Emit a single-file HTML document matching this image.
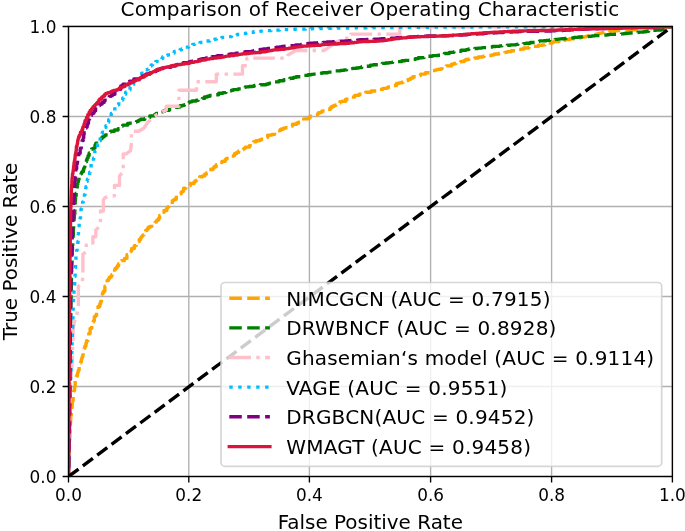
<!DOCTYPE html>
<html><head><meta charset="utf-8"><title>Comparison of Receiver Operating Characteristic</title>
<style>html,body{margin:0;padding:0;background:#fff}svg{display:block;will-change:transform}text{font-family:"DejaVu Sans","Liberation Sans",sans-serif;fill:#000}</style></head><body>
<svg width="685" height="531" viewBox="0 0 685 531">
<rect width="685" height="531" fill="#fff"/>
<defs><clipPath id="ax"><rect x="68.50" y="26.45" width="603.90" height="450.05"/></clipPath></defs>
<path d="M68.50 476.50V26.45M188.80 476.50V26.45M309.40 476.50V26.45M430.60 476.50V26.45M551.60 476.50V26.45M672.40 476.50V26.45M68.50 476.50H672.40M68.50 386.49H672.40M68.50 296.48H672.40M68.50 206.47H672.40M68.50 116.46H672.40M68.50 26.45H672.40" stroke="#b0b0b0" stroke-width="1.35" fill="none"/>
<g clip-path="url(#ax)" fill="none" stroke-width="3.38" stroke-linejoin="round">
<path d="M68.6 476.5h.01v-2.36v-3.2h.02h.01v-1.16v-2.01h.03h.03v-1.56v-1.41h.02v-1.67h.04v-2.1h.05v-2.25h.06v-2.63h.08h.08v-2.29h.11v-3.01h.07v-1.69h.15v-3.53v-1.2h.06h.13v-2.95v-2.25h.11h.14v-2.63h.08v-1.5v-1.64h.08v-3.28h.18v-3.73h.21v-1.96h.12v-2.97h.17v-3.43h.25v-3.41h.32h.13v-1.28v-1.16h.12h.17v-1.49v-3.3h.38v-1.3h.15v-2.12h.26v-3.49h.42h.29v-2.4v-2.8h.35h.23v-1.84v-2.76h.38h.45v-3.1v-1.06h.16h.47v-2.85v-3.39h.61h.59v-2.72v-1.6h.37h.7v-2.73h.31v-1.15h.54v-1.92h.84v-2.92v-1.56h.46v-1.54h.45v-1.19h.35h.27v-.95h.7v-2.41h.41v-1.37h.44v-1.48h.61v-1.97h.32v-1.01v-2.14h.67v-1.21h.38v-2.16h.7v-2.4h.77h.35v-1.11v-1.78h.57v-2.41h.75h.56v-1.8v-1h.3h.62v-2.09v-2.37h.7h.6v-2.04v-2.98h.89h.67v-2.18v-2.85h.9v-1.17h.39h.4v-1.17h.94v-2.55v-1.64h.66h.48v-1.16h1.11v-2.71v-1.57h.6h.88v-2.43v-2.41h.85h.94v-2.75h.75v-2.2h.84v-2.49v-1.62h.54h.49v-1.45v-2.84h.89v-1.83h.57h.98v-2.95v-2.22h.85h.9v-2.05h.48v-1.01v-2.57h1.31v-1.58h.88v-1.79h1.04h.89v-1.45h.72v-1.13h1.49v-2.25h1.19v-1.63v-.67h.51v-1.63h1.3v-1.16h.95v-1.45h1.23v-1.99h1.71h1.01v-1.18v-2.03h1.74h1.4v-1.55v-.63h.58h1.85v-1.98v-1.65h1.5h1.86v-2.16v-.93h.73v-.9h.67v-2.33h1.5h1.18v-1.99v-.84h.51h1.32v-2.02v-1.92h1.4h1.65v-2.16h1.43v-1.77h.69v-.84h.56v-.67h.57v-.67h.58v-.68h.86v-1.01v-1.93h1.7v-1.44h1.27v-1.42h1.33v-1.83h1.75v-.77h.75h.98v-.99v-1.43h1.42h1.96v-1.98h1.37v-1.4h.6v-.63h1.67v-1.79h.87v-.96v-1.83h1.65v-1.21h1.07v-1.94h1.7v-1.77h1.54h1.27v-1.49v-.84h.72v-.73h.61v-.82h.69v-.71h.59h.67v-.81v-1.02h.8h1.39v-1.82v-1.58h1.19v-.69h.52h.59v-.78h1.75v-2.18v-1.49h1.31v-.9h.85v-.94h.95h1.71v-1.6h.91v-.81h1.53v-1.3v-1.77h2.17v-1.6h2h1.04v-.81h1.47v-1.12v-1.25h1.69h2.07v-1.47h.95v-.67v-.5h.72h.8v-.57h1.49v-1.07v-1.23h1.68v-1.2h1.6h1.18v-.89h2.28v-1.73h1.61v-1.21h1.29v-.97h1.58v-1.16v-1.38h1.92h1.8v-1.28h1.13v-.8v-.56h.8h1.31v-.92v-1.21h1.77h1.05v-.71v-1.31h2.02h.83v-.53v-.73h1.18h2.19v-1.28v-.63h1.1v-1.06h1.93h1.73v-.95v-1.37h2.45h1.22v-.7h.86v-.5v-1.22h2.05v-1.27h2.1v-1.43h2.35v-1.47h2.35v-.48h.74v-.71h1.12v-1.15h1.79h2.37v-1.51h2.41v-1.49v-1.03h1.73v-1.35h2.43v-1.03h1.98h1.52v-.76h1.73v-.83h1.98v-.92v-.85h1.89h2.65v-1.18v-1.15h2.64h1.6v-.7h2.72v-1.2v-.52h1.15v-.48h1.05h1.07v-.49v-.83h1.79v-.39h.84v-1.23h2.65v-1.13h2.41v-.38h.83h1.14v-.53v-.67h1.45h1.05v-.49h2.39v-1.1v-.68h1.48h2.66v-1.19h1.97v-.87h2.57v-1.11h2.51v-1.08v-1.12h2.64h1.74v-.75h1.9v-.83v-1.04h2.41h1.39v-.6v-.77h1.8h2.02v-.86v-.37h.85v-.86h2.01v-.73h1.67v-1.07h2.42h1.43v-.64v-1.17h2.55h1.91v-.91v-.56h1.14v-1.16h2.26v-1.04h1.88v-.49h.84h1.49v-.87v-1.16h1.96v-1.39h2.4v-.42h.76h2.6v-1.36v-.72h1.53h2.77v-1.18v-.82h2.08h2.58v-.96v-.72h2.1h2.25v-.71v-.46h1.54h2.24v-.6h2.65v-.67v-.7h2.92h2.7v-.63v-.62h2.54h2.93v-.71h1.7v-.4v-.59h2.5h1.98v-.48v-.45h1.81h1.85v-.5h1.79v-.52v-.5h1.58h2.19v-.76h1.74v-.66h2.83v-1.13v-.91h2.2v-.51h1.22h1.69v-.7h1.51v-.64h2.38v-1.08h2.52v-1.16h2.6v-1.16h2.19v-.88v-.51h1.43h1.42v-.47h2.76v-.85h2.08v-.6v-.76h2.7h2.19v-.62v-.75h2.52h2.04v-.62h2.59v-.78v-.66h2.13v-.6h1.91v-.51h1.63v-.34h1.04h1.69v-.55h1.04v-.36v-1.03h2.96v-.44h1.24v-.92h2.57h2.72v-.96v-.79h2.34v-.69h2.11v-.41h1.23h1.88v-.62v-.53h1.63v-.44h1.37h2.19v-.68v-.47h1.59v-.8h2.99v-.71h3.06h1.58v-.33h1.24v-.25v-.28h1.44h2.19v-.41v-.5h2.74h1.49v-.28v-.31h1.57v-.59h3.01h1.98v-.39h2.45v-.48h1.54v-.3h1.22v-.24v-.44h2.2h2.12v-.42v-.27h1.33h2.45v-.5h2.27v-.47h2.52v-.51v-.27h1.31h2.76v-.57v-.3h1.5h2.21v-.45h2.85v-.56h1.03v-.21h1.75v-.35h3.06v-.6v-.58h3h2.28v-.44v-.55h3.09v-.59h3.3h2.98v-.56v-.62h2.98h1.18v-.28h2.43v-.6v-.66h2.53v-.58h2.33h2.81v-.65v-.23h1.04v-.6h2.77h2.69v-.57h1.59v-.32v-.32h1.59h2.5v-.47v-.33h1.83h2.97v-.49v-.31h2.13h3.01v-.4v-.45h3.55h1.79v-.24v-.19h1.39v-.5h3.25v-.41h2.31v-.74h3.21h2.3v-.69h3.06v-.95h2.14v-.6h2.18v-.49h1.31v-.26h1.84v-.34h1.06v-.19v-.23h1.39h2.86v-.45v-.15h1.1v-.25h1.97v-.32h3.32v-.21h2.94v-.16h2.98v-.09h1.63h2.32v-.11v-.13h2.7h3.79v-.21h1.64v-.11v-.12h1.76h1.79v-.13h3.09v-.23v-.17h2.3h1.24v-.1v-.19h2.43v-.13h1.65v-.27h3.18h1.86v-.16v-.1h1.15h2.63v-.23v-.31h3.28h2.07v-.19v-.3h3.02h2.39v-.24h2.46v-.26v-.35h3.33" stroke="#ffa500" stroke-dasharray="12.50 5.41"/>
<path d="M68.6 476.5v-2.37h.04h.02v-1.23v-2.69h.05h.04v-2.38h.04v-2.33h.04v-2.08v-1.72h.03h.05v-2.89h.03v-2v-1.9h.03h.05v-2.9h.04v-2.64v-1.53h.03h.04v-2.6h.03v-1.67h.05v-3.36v-3.56h.05h.04v-2.54h.05v-3.54h.02v-1.38h.04v-2.58h.02v-1.34h.03v-2.36v-1.43h.02h.02v-1.51h.04v-2.84v-1.79h.02h.02v-1.46h.02v-1.78v-2.14h.02h.03v-2.48v-1.73h.02v-2.97h.03h.03v-2.53v-2.58h.03v-2.26h.02v-3.4h.04h.02v-2.8h.02v-1.62h.03v-3.15v-3.89h.04v-2.57h.02v-3.68h.04h.02v-2.13v-2.76h.02h.03v-2.37h.02v-2.4h.03v-3.36v-2.67h.03h.04v-3.86h.03v-2.69v-1.39h.02v-2.19h.02v-3.56h.05h.03v-2.31h.01v-1.23v-1.85h.03h.01v-1.35h.06v-3.96h.05v-3.88h.06v-3.41v-2.85h.04h.05v-3.3h.03v-1.63v-1.98h.03h.05v-2.62h.04v-2.15v-1.28h.02h.07v-3.91h.04v-2.39h.05v-2.56h.04v-2.06h.04v-1.87h.05v-2.23h.07v-3.48v-3.2h.07h.05v-2.21v-1.18h.03h.08v-3.37v-1.89h.05v-2.77h.07h.03v-1.21v-2.99h.08h.06v-2.21v-2.52h.07v-2.29h.06v-2.11h.07h.08v-2.67h.12v-3.83h.05v-1.44v-2h.07h.04v-1.25v-3.17h.11h.12v-2.93v-1.7h.08h.11v-2.25v-2.86h.16h.16v-2.9v-1.56h.09h.22v-3.48v-3.18h.21v-1.46h.1v-3.42h.23h.21v-3.1v-3.23h.23v-2.55h.17v-1.69h.12h.22v-3.57h.16v-2.7v-2.03h.13h.11v-1.81v-3.53h.26v-2.19h.18v-2.48h.24h.29v-2.61h.53v-3.01h.56v-2.39v-1.41h.27v-2.41h.45v-2.13h.44v-2.15h.58v-2.27h.91v-1.28h.59h.55v-1.15v-1.02h.47v-1.37h.59v-.84h.35h.87v-2.1h.59v-1.43h.5v-1.21h.42v-1.02v-1.4h.57v-1.27h.52v-1.41h.58v-1.78h.74v-1.91h.83v-2.51h1.07v-2.73h1.27h.45v-.86v-1.16h.68v-1.81h1.19h.69v-.95h1.59v-2.06v-.99h.81v-1.76h1.52h1.47v-1.58v-1.74h1.71v-.62h.64v-.89h.94v-1.49h1.69v-.64h.78v-.56h.7v-.94h1.26h1.68v-1.17v-.54h.78h.81v-.54v-.5h.8v-.81h1.49h2.27v-.82v-.47h1.26h2.45v-1.23h1.52v-.88h1.85v-1.09v-.71h1.3v-.91h2.01h2.87v-1.03v-.59h1.86v-.41h1.35h1.84v-.55h1.87v-.57h1.97v-.65h1.99v-.69v-.33h.96v-.43h1.21v-.64h1.81h2.35v-.85h2.49v-.9h2.48v-.92v-.72h1.89h2.83v-1.07h1.54v-.58v-.69h1.85h2.43v-.89v-.93h2.69v-.59h1.77v-.88h2.72h1.85v-.58v-.77h2.46v-.28h.91v-.3h.94v-.93h2.93h1.1v-.36h2.3v-.77v-.51h1.46h1.29v-.46h1.66v-.62h2.78v-1.04v-.77h2.03v-1.03h2.76v-.85h2.33h1.93v-.67h1.97v-.65v-.44h1.36h.9v-.28h1.82v-.55h2.15v-.63v-.81h2.86v-.67h2.44v-.76h2.82v-.79h3.03h3.11v-.75v-.67h2.83h1.25v-.3v-.42h1.74h1.42v-.34v-.75h2.91v-.77h2.67v-.5h1.67v-.64h2.15h2.73v-.74h2.9v-.65h1.47v-.29v-.5h2.76v-.49h2.98v-.18h1.12v-.2h1.27h2.09v-.32h1.56v-.25v-.48h3.21v-.39h2.83v-.39h2.83h2.94v-.43h1.81v-.3v-.28h1.55v-.53h2.43h1.87v-.48v-.83h3.02h2.36v-.65v-.46h1.81h2.93v-.69v-.41h1.85v-.31h1.37v-.61h2.8v-.44h2.08h1.58v-.33v-.53h2.62v-.66h3.31h1.57v-.3v-.55h2.89v-.51h2.84h1.29v-.22v-.5h3.07v-.33h2.16v-.19h1.34h2.37v-.33h1.78v-.24h1.47v-.2h1.23v-.17v-.21h1.53v-.3h2.1h2.62v-.38h1.24v-.19h2.8v-.41v-.19h1.27v-.22h1.45v-.42h2.8h3.22v-.48h3.47v-.51h2.65v-.39v-.33h2.21v-.18h1.23v-.37h2.41v-.22h1.46h2.27v-.37h2.49v-.42h3.03v-.53v-.31h1.78v-.59h3.41h3.46v-.56v-.48h3.05v-.41h2.74h2.84v-.43v-.47h3.21v-.48h3.4v-.44h3.18v-.35h2.65v-.16h1.22v-.35h2.6v-.26h1.92v-.2h1.44h3.26v-.47v-.44h3.09v-.34h2.33h2.17v-.33h2.22v-.35h1.64v-.27h1.96v-.36v-.4h2.02h1v-.21v-.66h3.07h1.03v-.22h1.86v-.38v-.24h1.21h1.47v-.26v-.49h3.37h2.01v-.23v-.31h2.93h1.38v-.16h1.66v-.22h3.11v-.59h2.97v-.78v-.35h1.64h3.26v-.68v-.52h2.56h2.19v-.42v-.36h1.89h1.81v-.33h3.32v-.57v-.44h2.71h2.34v-.36v-.17h1.12v-.23h1.65v-.46h3.41v-.3h2.46v-.23h1.96h1.07v-.13v-.19h1.71h1.71v-.19v-.16h1.5v-.2h1.95h1.59v-.16h1.22v-.13v-.13h1.32v-.23h2.35h1.25v-.13v-.35h3.49v-.16h1.6h2.27v-.23v-.21h2.14v-.18h1.83h1.92v-.17h1.63v-.15v-.16h1.81h1.38v-.12v-.26h2.89h2.76v-.25v-.18h1.88v-.33h3.36h2.05v-.22v-.3h2.62v-.3h2.37h1.83v-.27v-.56h3.27h3.04v-.55v-.52h3.06v-.5h3.39h1.03v-.15h2.27v-.32h3.41v-.44h1.39v-.16v-.19h1.68h2.36v-.25h2.83v-.28h1.94v-.18h1.87v-.18h3.12v-.27h1.16v-.1h3.15v-.27v-.18h2.22h2.74v-.23v-.24h2.94v-.11h1.34v-.27h3.49v-.26h3.26v-.18h2.07h1.58v-.14v-.12h1.24h1.87v-.17v-.29h2.93v-.3h3.19h1.92v-.18v-.16h1.65v-.17h1.93h3.63v-.3h1.34v-.1v-.11h1.53v-.2h2.95h1.48v-.09h1.82v-.12v-.2h3.26h1.91v-.12h2.69v-.19v-.19h2.62v-.14h1.79v-.14h1.73v-.17h1.84h3.36v-.32h1.11v-.11v-.13h1.3v-.2h1.94v-.18h1.63h2.5v-.28h2.43v-.28v-.27h2.32v-.22h1.81v-.27h2.35v-.36h3.07v-.39h3.1h2.35v-.34h2.96v-.52h1.04v-.22h1.28v-.33h2.49v-.83v-.63h1.63v-.61h1.47v-.07h.16" stroke="#008000" stroke-dasharray="12.50 5.41" stroke-dashoffset="7.9"/>
<path d="M68.6 476.5L70.2 387L72.3 360.9L73.3 327.9L74.3 322.2L77.4 312L78.3 306L78.3 286.2L82 284L82.9 276.3L82.9 254.1L86 252L86.4 243.1L92.9 243.1L92.9 236.7L95.8 236.7L95.8 230L99 227.1L100.5 220.4L100.5 211L103.4 211L103.4 200L105.1 197.6L110.5 195.8L114.5 195.8L114.5 185.4L119.5 185.4L119.5 176.1L123.2 171.5L123.2 153.9L126.2 153.9L130.5 150.7L131.4 143L131.4 131.2L138.7 131.2L143.8 128.2L147.9 122.2L156.1 115L166.3 110L166.3 106.3L178.9 106.3L178.9 90.2L196.5 90.2L196.5 81.8L216.3 81.8L216.3 74.1L242.5 74.1L242.5 65.8L246.9 65.8L246.9 58.1L287 58.1L288 55L296 50.5L320 50.5L324 50.5L329 47.2L338.5 40.8L345 38.5L350.7 37.5L350.7 34.1L399.8 34.1L399.8 27L672.4 26.45" stroke="#ffc0cb" stroke-dasharray="21.63 5.41 3.38 5.41" stroke-dashoffset="8.0"/>
<path d="M68.6 476.5h.05v-2.7h.05v-3.14v-1.96h.04h.05v-2.59h.07v-3.65h.07v-3.66v-1.51h.02v-1.73h.04v-1.29h.02v-2.38h.05v-1.23h.02h.05v-2.43h.06v-2.97v-1.93h.04v-3.04h.06h.06v-2.8v-1.22h.02h.06v-2.71v-1.87h.03v-2.31h.05h.04v-1.94h.07v-3.09h.04v-2.38h.03v-1.59v-2.68h.06h.06v-3.33v-2.01h.04h.04v-1.77v-2.23h.05h.08v-3.77h.08v-3.88v-3.02h.07h.09v-3.67h.08v-3.5h.06v-2.19h.04v-1.4v-2.95h.08h.08v-2.69h.07v-2.13h.06v-1.75v-2.25h.09v-2.41h.1h.08v-1.86v-1.91h.09h.11v-2.37v-3.47h.17v-2.72h.13h.08v-1.89v-1.88h.09v-2.37h.1v-1.69h.06h.06v-1.69v-2.55h.09h.04v-1.38h.08v-2.48v-2.14h.06v-3.1h.09h.09v-3.22v-3.06h.09h.08v-3.05v-2.18h.07h.09v-2.99v-2.08h.06h.08v-2.73h.06v-2.04h.07v-2.38v-1.3h.03v-1.81h.06h.13v-3.82v-1.76h.07h.12v-3.03v-2.89h.14v-3.07h.17v-2.39h.14h.17v-2.7v-1.28h.08v-1.3h.08v-1.63h.11v-1.51h.1v-1.37h.09h.09v-1.44h.16v-2.59v-1.62h.1v-3.69h.2h.15v-2.96h.13v-2.59h.16v-3.03h.1v-1.83v-3.61h.21h.21v-3.36v-3.02h.23h.19v-2.35h.34v-3.24h.46v-2.84v-2.65h.41h.33v-3.45h.2v-2.79h.13v-2.08v-2.58h.17h.08v-1.65v-1.63h.09h.21v-3.04h.36v-3.05v-3.4h.55h.48v-3.13h.33v-2.39v-1.25h.17v-2.24h.34v-3.24h.58v-2.82h.6v-2.1h.46v-2.05h.42h.29v-1.51h.26v-1.41h.22v-1.17h.6v-3.11h.54v-2.47v-1.27h.3h.46v-1.9v-1.07h.24v-1.46h.31h.54v-2.72v-2.52h.52v-2.06h.47v-1.57h.39v-2.41h.63h.82v-3.07h.53v-1.9h.3v-1.07h.29v-1.04h.32v-1.09v-3.05h.86v-2.12h.59h.79v-2.78h.37v-1.29h.43v-1.48v-2.43h.73v-2.86h.86h.52v-1.63v-1.02h.33h.92v-2.73v-1.47h.52h.89v-2.41v-1.17h.44h.9v-2.26v-2.51h1.07v-2.24h1.01v-1.51h.68h1.02v-2.24h.49v-1.08v-1.43h.63h.73v-1.64h1.14v-2.55v-1.1h.5h1.18v-2.51h1.16v-2.3h1.39v-2.55v-1.4h.82h.67v-1.09v-1.15h.71h1.39v-2.15v-2.35h1.58v-1.88h1.29h1.06v-1.48v-1.14h.85h1.54v-2.02h1.6v-2.07h.62v-.81h.78v-1.01v-2.03h1.51v-2.07h1.54v-1.17h.89v-1.11h.86h1.09v-1.31v-1.47h1.25v-.77h.67v-1.9h1.66v-1.46h1.24h1.54v-1.85v-.99h.84h1.82v-2.11v-1.74h1.57v-1.12h1.04v-1.99h1.89h1.57v-1.6v-1.77h1.81h.67v-.63h.7v-.63h1.75v-1.54v-.93h1.11v-1.18h1.47v-.71h.91v-1.69h2.27v-1.08h1.53h2.12v-1.42h.85v-.54h1.57v-.97h.84v-.5v-1.34h2.36h1.6v-.85v-.46h.91v-.45h.93h1.86v-.85v-.42h.96h1.19v-.52h1.68v-.73v-.8h1.79v-.89h1.95h2.03v-.92h1.55v-.69h2.07v-.87v-.46h1.16v-.55h1.4h2.51v-.95v-.42h1.18h1.36v-.45h1.43v-.44v-.52h2.02v-.22h.95h1.03v-.23v-.46h2.03h1.31v-.32v-.69h2.43v-.82h2.62v-.65h2.18h2.5v-.66v-.45h1.83h1.05v-.25h2v-.43h1.87v-.36h2.46v-.42v-.22h1.33v-.27h1.55v-.57h2.93v-.33h1.6v-.39h1.95h3.22v-.63v-.32h1.64h1.33v-.25v-.51h2.68v-.43h2.36h2.48v-.44v-.19h1.09v-.36h2.01h1v-.18h1.61v-.27h2.75v-.44v-.17h1.17h1.78v-.24v-.42h3.57v-.38h3.57v-.23h2.32h2.99v-.28v-.23h2.75h2.33v-.17h3.4v-.22v-.1h1.57h3.37v-.17h1.23v-.06h3.5v-.15v-.13h2.97h2.33v-.12v-.14h2.95h2.39v-.09h3.32v-.08v-.03h1.47h2.57v-.05h3.55v-.12v-.16h3.66h1.72v-.07v-.07h1.82v-.11h3.65h2.1v-.06v-.03h1.3v-.08h3.14v-.05h2.3h3.2v-.08h2.48v-.05v-.05h2.55h2.33v-.04v-.03h1.96v-.06h3.69v-.05h3.03v-.05h3.38h3.68v-.05v-.03h1.86v-.05h3.75h3.59v-.05v-.03h2.58v-.04h2.76v-.01h1.48v-.04h3.31h1.65v-.02v-.03h2.67h1.51v-.02v-.01h1.37h2.88v-.03v-.03h2.55v-.03h3.07v-.03h3.4h3.95v-.03v-.01h1.39v-.03h2.96h2.79v-.02h3.01v-.02h2.7v-.02h2.75v-.02v-.03h3.63h2.44v-.02v-.02h2.68v-.02h3.13h1.41v-.01h2.39v-.01v-.01h1.45v-.02h1.56h1.16h1.76v-.01h1.78v-.02v-.01h2.63h2.78v-.02h3.51v-.02v-.02h2.54v-.02h3.7h2.29v-.01h3.28v-.02h2.74v-.01v-.02h2.94h1.93v-.01v-.02h3.84h3.35v-.01v-.01h1.58v-.01h2.7h4v-.01h1.31v-.01h2.03h3.28v-.01v-.01h1.28h3.29v-.01h2.81h3.25v-.01h2.74h3.85v-.01v-.01h2.16h2.8h1.32h2.75v-.01h2.36h3.98v-.01h3.87h1.56h1.29h1.51v-.01h1.72h3.24h2.73h2.7v-.01h2.49h1.19h2.29h4.02v-.01h3.52h2.8h1.73h3.8v-.01h2.38h2.94h1.75h2.11h2.15h2.3v-.01h1.23h3.06h1.66h2.89h2.94v-.01h3.16h2h2.01h3.32v-.01h2.28h1.61h3.75v-.01h1.21h3.7h2v-.01h2.26h3.96h2.42v-.01h3.21h2.34v-.01h3.78v-.01h3.22h2.54v-.01h1.41h2.2v-.01h2.57h1.97v-.01h2.7v-.01h1.76v-.01h2.57v-.02h2.66v-.02h3.08h3.27v-.03v-.03h3.23h2.36v-.02h2.46v-.02v-.04h3.63h2.19v-.02h3.25v-.03h.5" stroke="#00bfff" stroke-dasharray="3.38 5.58"/>
<path d="M68.6 476.5h.07v-3.86h.05v-2.69v-3.88h.08v-3.15h.05v-3.11h.06v-1.76h.03h.07v-3.89v-1.17h.02v-1.86h.03v-2.37h.04h.06v-3.35h.03v-1.7h.06v-3.58h.06v-3.92v-1.62h.03h.04v-2.83v-1.18h.02v-2.24h.03v-1.28h.02h.06v-3.85h.03v-2.38v-3.83h.05v-3.38h.05h.04v-3.6v-1.64h.02h.02v-1.37v-2.86h.03h.02v-1.63h.04v-3.23v-2.31h.02v-2.66h.03h.03v-3.81v-2.64h.03v-1.47h.01v-1.61h.01h.03v-2.7h.02v-2.65v-2.97h.02h.01v-2.31h.03v-3v-2.29h.01v-2.94h.02h.02v-3.34h.01v-1.67v-2.23h.02v-2.59h.01v-3.12h.02h.01v-1.88h.02v-2.74v-2.94h.02v-3.71h.02h.02v-2.19v-2.97h.02h.01v-1.71v-2.57h.02h.01v-1.68h.03v-3.77h.02v-2.38v-3.52h.03h.02v-2.34h.04v-3.72v-2.3h.02v-2.1h.03h.03v-2.77h.04v-3.55h.05v-3.59v-2.83h.04v-1.39h.02v-2.83h.05h.03v-1.84v-3.2h.06v-3.65h.08v-2.58h.06v-2.83h.07v-1.32h.03h.07v-2.65h.04v-1.5v-2.85h.08v-2.15h.06h.09v-3.28h.03v-1.27v-1.44h.05h.09v-3.04h.07v-2.56v-2.73h.08v-3.48h.11h.07v-2.49h.11v-3.38h.08v-2.55h.12v-3.7v-2.98h.1h.05v-1.54h.07v-2.14v-3.52h.13v-2.09h.08h.06v-1.65h.09v-2.43v-2.21h.09h.11v-2.82v-2.33h.1v-1.84h.07h.1v-2.25h.1v-2.27h.17v-3.58h.18v-3.79h.14v-2.82v-1.34h.06h.17v-3.1h.16v-2.95h.19v-3.34h.12v-2.04h.09v-1.26v-2.72h.2v-1.41h.11h.27v-3.07h.34v-3.1v-2.05h.29v-3.33h.54h.25v-1.42v-3.29h.58v-2.12h.38v-2.81h.54v-2.76h.56v-3.27h.71h.76v-3.19v-1.02h.26v-.96h.26h.57v-2.15v-1h.27v-2.42h.63v-2.16h.54h.58v-2.5h.45v-1.98v-1.58h.37v-3.08h.8h.77v-2.49h.3v-.88h.39v-1.07h.82v-2.16h.58v-1.41h.71v-1.62v-2.33h1.08v-1.46h.72v-2.51h1.32v-2.03h1.19h1.09v-1.66h.71v-.98h1.01v-1.33v-1.83h1.52v-2.09h1.92h.68v-.7h.78v-.77h1.71v-1.58h1.92v-1.63h.8v-.62h2.15v-1.4h2.18v-1.24v-1.18h1.96v-.88h1.26v-1.13h1.31h1.11v-1.11v-1.85h1.72v-1.08h1.03h1.08v-1.02h2.05v-1.79v-1.68h2.12v-1.55h2.39h2.27v-1.21h.95v-.47h.98v-.45v-.86h1.9h2.52v-1.1v-1.14h2.56h2.05v-.94h2.71v-1.2h1.11v-.49v-.56h1.24h1.47v-.66v-.61h1.29v-.67h1.39h1.01v-.5h1.52v-.73h.86v-.39h1.9v-.8h2.87v-1.01h1.86v-.59v-.66h2.28v-.63h2.29v-.77h3.07h2.66v-.62h2.85v-.68v-.44h1.69h2.98v-.79v-.36h1.34v-.48h1.85v-.64h2.64h1.73v-.4v-.68h3.02h2.95v-.68v-.32h1.32v-.37h1.46v-.27h1.05h2.91v-.72v-.41h1.73h1.89v-.41h1.61v-.33v-.25h1.27v-.4h2.07h1.55v-.29v-.43h2.36v-.26h1.48v-.39h2.25v-.56h3.32v-.31h1.92v-.53h3.38h1.16v-.17h2.39v-.35h2.52v-.37v-.49h3.42v-.48h3.34h2.29v-.34v-.42h2.92v-.5h3.46v-.42h2.86v-.52h3.38h3.32v-.53h2.17v-.38v-.46h2.6v-.24h1.44v-.33h2.09v-.48h3.17v-.36h2.46h1.72v-.25v-.19h1.33h1.61v-.23h1.34v-.18v-.22h1.62v-.27h2h1.14v-.14v-.41h3.17v-.25h2.08v-.29h2.49v-.32h2.68h1.39v-.16v-.15h1.26v-.17h1.44h3.57v-.42h1.3v-.17v-.28h2.1h3.24v-.43h2.51v-.33v-.13h1.09v-.39h3.33v-.2h2.06v-.14h1.52h1.97v-.16v-.2h2.66h1.2v-.09h2.81v-.19h2.74v-.18v-.11h1.71h2.24v-.15v-.11h1.62v-.07h1.15h2.66v-.19h2.28v-.16v-.23h3.35v-.11h1.63h2.27v-.16h2.88v-.19h1.28v-.09h2.05v-.14h2.93v-.2v-.12h1.76v-.14h2.07v-.17h2.64v-.14h2.2v-.21h3.47h3.45v-.18h3.4v-.15h2.29v-.11h1.64v-.07h2.86v-.13h2.28v-.12h2.49v-.13v-.16h2.87h3.62v-.23v-.26h3.23v-.12h1.4h3.49v-.28h2.93v-.17h1.98v-.11v-.17h3.08v-.16h2.38h2.58v-.18h2.62v-.19h1.51v-.09v-.12h2.09h2.29v-.12v-.07h1.27v-.16h3.09v-.08h2.01v-.1h2.45v-.08h3.79h3.61v-.04h1.94v-.02v-.02h2.29v-.03h2.77v-.04h1.48v-.09h3.35h2.03v-.07h1.44v-.06h3.05v-.14h2.52v-.13v-.06h1.18h2.63v-.15v-.2h3.16h1.18v-.08v-.18h2.86h1.77v-.12v-.16h2.26h1.29v-.08v-.17h2.52h3.62v-.24h1.92v-.13v-.08h1.27h3.39v-.2v-.22h3.66h2.42v-.15h3.54v-.23h3.54v-.23h3.08v-.19h3.36v-.19h1.55v-.08v-.16h3.43v-.09h2.27h1.92v-.07v-.1h2.68h3.5v-.12v-.07h2.34v-.04h1.35h1.94v-.05v-.06h1.93v-.07h3.09v-.09h3.81v-.06h2.69h1.85v-.04h3.12v-.07h1.56v-.03v-.03h1.32v-.05h2.97h2.2v-.05h2.4v-.05v-.04h1.34v-.09h2.46v-.11h2.79v-.2h3.78h1.17v-.06h2.5v-.15v-.15h2.41h2.78v-.17v-.22h3.4v-.15h2.44h2.65v-.16h2.47v-.14h3.28v-.16v-.15h3.62v-.07h2.02v-.11h3.13h2.95v-.1h2.17v-.06v-.1h3.37v-.09h3.07h2.51v-.07v-.07h2.73v-.1h3.79h2.92v-.08h2.91v-.07v-.06h2.2v-.09h3.31v-.11h3.56h2v-.06v-.06h2.04h3.01v-.09v-.06h1.93v-.04h1.37h1.93v-.06h3.07v-.09v-.08h2.53v-.09h2.74v-.09h2.88h2.62v-.08v-.12h3.8h3.38v-.1v-.12h3.8h3.06v-.1h3.16v-.1" stroke="#800080" stroke-dasharray="12.50 5.41" stroke-dashoffset="-7.9"/>
<path d="M68.6 476.5h.01v-1.11h.01v-2.24v-1.07h.01v-2.33v-1.57h.01h.01v-1.79v-2.06h.01h.01v-1.62v-1.24h.01v-1.04v-.86h.01h.01v-2.01v-1.49v-.99h.01v-2.26h.01v-1.2h.01v-1.44h.01v-1.23h.01v-1.82v-1.73h.01v-1.77h.01v-1.18h.01v-1.21h.01v-1.16v-1.29h.01v-.97v-1.01h.02v-2.4h.01v-2.4v-1.05h.01v-.75v-1.08v-1.94h.01v-2.08h.01h.01v-.76h.01v-1.73v-.71h.01v-1.62v-1.84h.01h.01v-2.44v-1.17h.01v-2.12h.01v-2.24h.01h.02v-2.33v-.72h.01v-1.54v-2.43h.01v-1.42h.01h.01v-2.14h.01v-1.67v-2.07h.01v-1.56h.01v-.77v-.87h.01v-.91v-1.16h.01h.01v-2.4v-1.82h.01h.01v-2.15v-1.71h.01v-1.82h.01h.01v-2.14h.02v-2.34v-2.31h.01h.01v-2.17v-.88v-1.34h.01v-.78h.01v-1.68h.02v-2.1v-.81h.01v-1.05v-1.35h.01v-1.15v-2.1h.01h.01v-1.34h.01v-1.83h.01v-1.58h.01v-1.74h.01v-2.36v-2.36h.02v-.91v-2.19h.02v-1.33h.01v-.89v-1.38h.01v-1.61h.01v-2.4h.01v-1.36h.01v-.74h.01v-2.22h.01v-.91h.01v-1.55h.01h.01v-2.2v-1.61h.02v-1.5h.01h.01v-2.11v-.75h.01v-1.72h.01v-1.43h.01v-2.44h.02h.01v-2.11v-.81h.01v-1.05h.01v-1.51h.01v-1.94h.01v-1.29h.01v-1.35h.01v-2.32h.02v-2.38h.02v-1.43h.01h.02v-2.28h.01v-1.29v-.86h.01h.01v-1.63v-1.87h.01h.02v-2.27h.03v-2.4v-2.06h.01h.02v-2.03h.02v-1.95h.02v-1.94v-2.05h.02v-2.41h.02h.02v-1.37v-.85v-1.14h.02v-1.09h.01h.01v-1.35v-2.12h.02v-.82h.01h.02v-1.5v-2.12h.02h.02v-1.17v-.83v-1.13h.02h.01v-.86h.02v-2.12v-1h.02h.01v-1.05h.02v-2.13v-2.12h.03v-1.74h.02h.03v-2.3h.01v-.81h.03v-2.39h.03v-1.7h.01v-1.24h.03v-2.14h.03v-1.86h.03v-2.42v-.9h.01h.03v-1.71h.02v-1.53v-1.84h.03v-1.13h.02v-.76h.01h.03v-1.65v-1.34h.02v-2.25h.05v-1.5h.02v-1.43h.03h.04v-1.79v-1.62h.03h.05v-2.36h.05v-2.06v-1.56h.04v-1.06h.02h.05v-1.74h.05v-1.98v-2h.06h.07v-2.4h.03v-1.07h.04v-1.42h.05v-1.42h.04v-1.24v-1.32h.05v-1.51h.05h.08v-1.6h.06v-1.12h.05v-.91h.08v-1.17v-.9h.06h.09v-1.19h.14v-1.78v-1.64h.13v-2.27h.21v-1.56h.14v-1.54h.15v-1.67h.19h.21v-1.78h.21v-1.59h.21v-1.55h.23v-1.56v-1.17h.17h.28v-1.81v-1.55h.23h.17v-1.09v-1h.15v-.74h.12h.17v-1.15h.1v-.65h.12v-.89v-.72h.11v-1.06h.15v-1.17h.16h.22v-1.54h.27v-1.82h.24v-1.57h.14v-.87v-1.96h.33h.32v-1.69h.27v-1.32h.33v-1.52v-1.28h.33v-.78h.24v-1.38h.48v-1.78h.67v-1.5h.58h.28v-.76h.25v-.68v-1.72h.64h.64v-1.68h.57v-1.46h.59v-1.48v-.69h.27h.61v-1.54h.31v-.76v-.71h.28h.41v-1.02v-.51h.21v-1.56h.65v-.71h.3h.61v-1.41v-1.2h.54h.66v-1.41v-1.2h.58h.79v-1.62v-.92h.47h.56v-1.03v-.84h.48h.78v-1.25h.51v-.74h.94v-1.19h.4v-.47h.54v-.59h.72v-.77h.46v-.48h.53v-.55h1.07v-1.13h.67v-.71h.54v-.57h1.08v-1.12v-.87h.87v-.91h.92h1.15v-1.13v-.99h.99h.61v-.58v-.36h.38h.9v-.78v-.84h1.13v-.81h1.32v-.37h.69v-.6h1.23h1.7v-.68v-.31h.87v-.32h.9v-.4h1.07v-.47h1.26h1.78v-.68h1.24v-.52h1.56v-.72v-.62h1.26v-.52h1.03h.84v-.42h.88v-.46h1.37v-.71v-.35h.69v-.32h.64h.73v-.36h1.27v-.63v-.46h.92h.72v-.36h.87v-.43v-.28h.58h1v-.5h1.44v-.7v-.49h1.01h1.03v-.48v-.25h.52h.83v-.38h.59v-.26v-.25h.56h1.56v-.68v-.59h1.38v-.67h1.51h.66v-.3h.92v-.44v-.78h1.55v-.53h.95v-.87h1.48h1.51v-.91h.46v-.27h.94v-.53h1.15v-.61h.9v-.43h.96v-.41h.96v-.39h.81v-.32v-.21h.56v-.53h1.48h1.86v-.61v-.19h.59v-.53h1.72h1.3v-.37v-.17h.59v-.17h.66v-.34h1.31v-.19h.72v-.24h.99h.98v-.23h1.97v-.46v-.28h1.26v-.22h1v-.42h1.95h2.01v-.41v-.32h1.67h.81v-.15h1.97v-.32h1.3v-.2h1.85v-.25v-.25h1.74h1.62v-.25h1.77v-.3v-.35h1.8v-.26h1.27h1.3v-.27h.74v-.16v-.24h1.13h1.88v-.4h.91v-.19h1.69v-.36v-.38h1.75v-.19h.88h1.7v-.36h1.57v-.31v-.37h2.07h1.21v-.19v-.27h1.79h1.93v-.27v-.17h1.22v-.14h.97h1.19v-.17h1.63v-.25v-.15h1.02h1.94v-.29h1.08v-.16h1.8v-.27v-.17h1.11v-.2h1.4v-.29h1.97h1.38v-.21v-.23h1.58v-.17h1.15h1.35v-.2v-.11h.72h1.41v-.22h1.31v-.2h1.07v-.17v-.14h.89h1.15v-.17v-.15h1.09h1.21v-.15v-.23h1.91h2.08v-.22h2.12v-.21h1.33v-.13v-.17h2.14v-.11h1.63v-.17h2.31v-.07h.87v-.18h1.87h1.55v-.21v-.22h1.4v-.31h1.75h1.86v-.33h1.87v-.31h1.14v-.18v-.19h1.2v-.24h1.53h.69v-.11v-.27h1.87v-.21h1.55h1.35v-.15h1.68v-.16h2.22v-.19v-.16h1.97h1.71v-.17v-.11h.97v-.3h2.13h1.2v-.2v-.34h1.98h1.36v-.23h1.64v-.27v-.32h1.96v-.12h.71h1.06v-.17v-.15h.89h.69v-.11h1.15v-.17h2.08v-.25v-.09h1.07v-.07h.86h2.23v-.14h1.5v-.09h1.46v-.09v-.12h1.81v-.13h2.03h1.05v-.07h1.01v-.06v-.1h1.37h2.06v-.15h2.14v-.21v-.11h.95v-.21h1.73v-.15h1.35v-.19h2.07h1.17v-.08h1.13v-.06h.72v-.04h2.16v-.09v-.04h.98h1.16v-.04h1.11v-.05h2.24v-.1v-.03h.83h1.26v-.05v-.08h1.84h.97v-.04h1.65v-.09v-.09h1.38h.69v-.05h1.64v-.15h1.2v-.13h.98v-.11v-.25h2.19h1.98v-.22v-.15h1.36h1.15v-.13h.66v-.08v-.21h1.8v-.11h1.08h1.49v-.12v-.1h1.72v-.09h1.96h.97v-.04h.85v-.03h2.01v-.06v-.03h.78h1.39v-.05v-.02h.76v-.03h1.06v-.03h1.02v-.07h2.14v-.08h1.94v-.06h1.09v-.15h1.6v-.17h1.42h.77v-.11h1.18v-.17v-.27h1.77h.83v-.12v-.15h.99v-.18h1.17h.62v-.11h1.77v-.3h1.21v-.21h1.59v-.26h1.44v-.2h1.88v-.22h1.71v-.16v-.12h1.31v-.07h.86v-.12h1.35v-.05h.68h.79v-.07h2.01v-.17v-.13h1.49v-.17h1.95v-.14h1.87v-.11h1.55v-.11h1.89v-.11h2.27v-.09h2.29v-.05h1.12v-.09h2.23h1.49v-.07h1.04v-.04h1.39v-.05v-.07h1.68v-.08h2.2h2.22v-.09h1.65v-.06v-.08h2.06h1.58v-.07h.85v-.03v-.07h1.42h1.86v-.1v-.1h1.94h1.81v-.11h.68v-.04h1.81v-.11v-.14h2.3h1.03v-.07v-.13h1.85v-.06h1h1.93v-.14h2.21v-.16h1.01v-.07h2.03v-.15h1.16v-.09h2.12v-.15v-.06h.72h1.91v-.14h1.02v-.08h1.27v-.09h.93v-.07v-.15h1.99h1v-.07v-.1h1.25v-.09h1.27h1.11v-.08v-.07h1.04v-.14h1.91h1.62v-.11v-.13h1.95h.94v-.06v-.11h1.57h.8v-.05h.84v-.06h1.38v-.1v-.11h1.65h1.85v-.13v-.11h1.61v-.06h.8h1.3v-.09h1.89v-.12h2.25v-.14h2.19v-.13h1.5v-.08h2.26v-.11h1.12v-.05h1.73v-.07h1.98v-.08h.7v-.02h.83v-.03v-.05h1.25v-.03h1.06h.99v-.04h1.64v-.05v-.06h1.79v-.04h1.53v-.05h1.9v-.04h1.24h1.33v-.04h.93v-.02v-.03h1.08h1.54v-.03h2.12v-.05h1.52v-.04h2.23v-.05h2.32v-.04h2.03v-.05h2.05v-.04v-.02h.73h1.9v-.04h.76v-.01h2.01v-.04h1.44v-.03v-.02h.85v-.05h2.3h1.02v-.03h2.34v-.07h2.03v-.07v-.08h2.27h1.75v-.07v-.05h1.29v-.08h1.87v-.06h1.47h1.92v-.09h2.3v-.1h.79v-.03h.96v-.05h1.42v-.06v-.03h.73v-.06h1.3h1.4v-.06v-.04h.99v-.04h.76h1.76v-.07h1.1v-.04h1.88v-.08h1.4v-.05v-.07h2.22v-.04h1.21h1.62v-.05h1.19v-.04h2.32v-.07h1.17v-.03h1.86v-.05v-.04h1.31v-.05h1.87h1.77v-.04h2.02v-.06h1.78v-.04h1.49v-.04h1.47v-.04v-.02h.97v-.02h.91v-.03h.97v-.05h2.3v-.05h1.85h2.26v-.06h1.75v-.04h1.07v-.03h.72v-.02v-.04h1.62v-.06h2.37v-.06h2.06v-.02h.82h1.32v-.04v-.03h.93v-.03h1.16h1.86v-.05v-.04h1.26v-.05h1.57h1.19v-.03h1.4v-.04v-.04h1.35h1.69v-.05v-.03h.84h2.39v-.07h.93v-.03h.79v-.02h2.26v-.07v-.04h1.32h.7v-.03h1.13v-.03v-.07h2.08h1.96v-.06h1.8v-.06v-.06h2.11h1.5v-.05h2.27v-.07h1.15v-.04v-.05h1.55v-.07h2.11h1.62v-.05h1.11v-.04h1.21v-.04" stroke="#dc143c" stroke-linecap="square"/>
<path d="M68.50 476.50L672.40 26.45" stroke="#000" stroke-dasharray="12.50 5.41"/>
</g>
<path d="M68.50 476.50v5.91M188.80 476.50v5.91M309.40 476.50v5.91M430.60 476.50v5.91M551.60 476.50v5.91M672.40 476.50v5.91M68.50 476.50h-5.91M68.50 386.49h-5.91M68.50 296.48h-5.91M68.50 206.47h-5.91M68.50 116.46h-5.91M68.50 26.45h-5.91" stroke="#000" stroke-width="1.35" fill="none"/>
<rect x="68.50" y="26.45" width="603.90" height="450.05" fill="none" stroke="#000" stroke-width="1.35"/>
<text x="68.50" y="501.00" font-size="16.9" text-anchor="middle">0.0</text>
<text x="56.40" y="482.70" font-size="16.9" text-anchor="end">0.0</text>
<text x="188.80" y="501.00" font-size="16.9" text-anchor="middle">0.2</text>
<text x="56.40" y="392.69" font-size="16.9" text-anchor="end">0.2</text>
<text x="309.40" y="501.00" font-size="16.9" text-anchor="middle">0.4</text>
<text x="56.40" y="302.68" font-size="16.9" text-anchor="end">0.4</text>
<text x="430.60" y="501.00" font-size="16.9" text-anchor="middle">0.6</text>
<text x="56.40" y="212.67" font-size="16.9" text-anchor="end">0.6</text>
<text x="551.60" y="501.00" font-size="16.9" text-anchor="middle">0.8</text>
<text x="56.40" y="122.66" font-size="16.9" text-anchor="end">0.8</text>
<text x="672.40" y="501.00" font-size="16.9" text-anchor="middle">1.0</text>
<text x="56.40" y="32.65" font-size="16.9" text-anchor="end">1.0</text>
<text x="120.57" y="15.90" font-size="20" textLength="498.7" lengthAdjust="spacing">Comparison of Receiver Operating Characteristic</text>
<text x="370.30" y="528.80" font-size="19.95" text-anchor="middle">False Positive Rate</text>
<text transform="translate(16.90 251.50) rotate(-90)" font-size="19.95" text-anchor="middle">True Positive Rate</text>
<rect x="221.00" y="282.50" width="440.70" height="183.90" rx="4" ry="4" fill="#fff" fill-opacity="0.8" stroke="#ccc" stroke-opacity="0.8" stroke-width="1.69"/>
<path d="M229.30 298.30H269.90" stroke="#ffa500" stroke-width="3.38" stroke-dasharray="12.50 5.41" fill="none"/>
<text x="286.20" y="305.70" font-size="20" textLength="264.3" lengthAdjust="spacing">NIMCGCN (AUC = 0.7915)</text>
<path d="M229.30 327.90H269.90" stroke="#008000" stroke-width="3.38" stroke-dasharray="12.50 5.41" fill="none"/>
<text x="286.20" y="335.30" font-size="20" textLength="270.2" lengthAdjust="spacing">DRWBNCF (AUC = 0.8928)</text>
<path d="M229.30 357.50H269.90" stroke="#ffc0cb" stroke-width="3.38" stroke-dasharray="21.63 5.41 3.38 5.41" fill="none"/>
<text x="286.20" y="364.90" font-size="20" textLength="367.9" lengthAdjust="spacing">Ghasemian‘s model (AUC = 0.9114)</text>
<path d="M229.30 387.10H269.90" stroke="#00bfff" stroke-width="3.38" stroke-dasharray="3.38 5.58" fill="none"/>
<text x="286.20" y="394.50" font-size="20" textLength="221.0" lengthAdjust="spacing">VAGE (AUC = 0.9551)</text>
<path d="M229.30 416.70H269.90" stroke="#800080" stroke-width="3.38" stroke-dasharray="12.50 5.41" fill="none"/>
<text x="286.20" y="424.10" font-size="20" textLength="248.2" lengthAdjust="spacing">DRGBCN(AUC = 0.9452)</text>
<path d="M229.30 446.60H269.90" stroke="#dc143c" stroke-width="3.38" stroke-linecap="square" fill="none"/>
<text x="286.20" y="454.00" font-size="20" textLength="244.8" lengthAdjust="spacing">WMAGT (AUC = 0.9458)</text>
</svg></body></html>
